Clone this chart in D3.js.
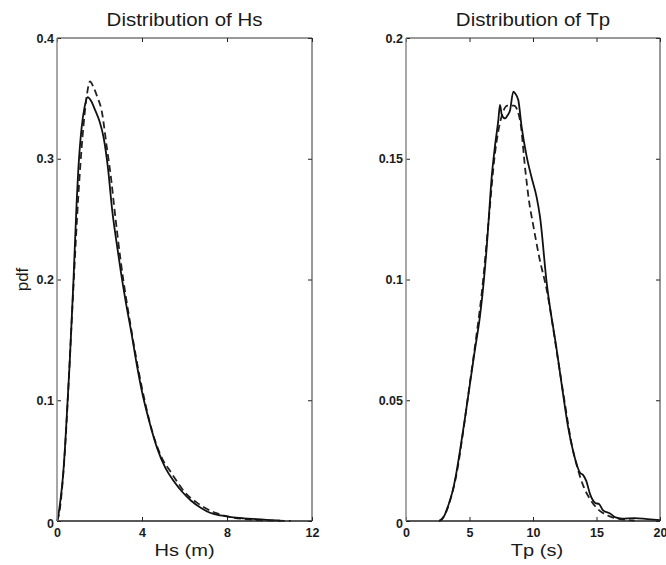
<!DOCTYPE html>
<html>
<head>
<meta charset="utf-8">
<script src="https://cdn.jsdelivr.net/npm/d3@7"></script>
<style>
  html, body { margin: 0; padding: 0; background: #fff; }
  svg { display: block; }
  text { font-family: "Liberation Sans", Arial, Helvetica, sans-serif; fill: #1a1a1a; }
</style>
</head>
<body>
<svg id="chart" width="666" height="565"></svg>
<script>
// Significant wave height Hs (m): empirical density (solid) and fitted model (dashed)
const hsEmpX = [0, 0.05, 0.1, 0.22, 0.3, 0.38, 0.5, 0.6, 0.77, 0.93, 1.0, 1.16, 1.3, 1.44, 1.6, 1.8, 2.0, 2.2, 2.4, 2.6, 2.8, 3.0, 3.25, 3.5, 3.75, 4.0, 4.35, 4.7, 5.1, 5.5, 5.9, 6.3, 6.8, 7.2, 7.7, 8.2, 8.8, 9.4, 10.0, 10.5];
const hsEmpY = [0, 0.003, 0.009, 0.026, 0.041, 0.062, 0.1, 0.132, 0.197, 0.266, 0.29, 0.326, 0.343, 0.351, 0.348, 0.34, 0.331, 0.317, 0.292, 0.257, 0.231, 0.207, 0.18, 0.156, 0.13, 0.107, 0.082, 0.061, 0.044, 0.033, 0.024, 0.017, 0.0105, 0.0068, 0.0046, 0.0032, 0.0022, 0.0015, 0.0008, 0.0003];
const hsFitX = [0, 0.1, 0.2, 0.3, 0.4, 0.5, 0.6, 0.8, 1.0, 1.2, 1.4, 1.55, 1.7, 1.9, 2.1, 2.34, 2.57, 2.68, 3.0, 3.5, 4.0, 4.5, 5.0, 5.3, 5.6, 6.0, 6.3, 6.6, 7.0, 7.5, 8.0, 9.0, 10.0, 11.0];
const hsFitY = [0, 0.006, 0.02, 0.04, 0.066, 0.098, 0.133, 0.203, 0.268, 0.318, 0.352, 0.364, 0.36, 0.351, 0.34, 0.31, 0.28, 0.262, 0.215, 0.158, 0.11, 0.073, 0.05, 0.042, 0.034, 0.024, 0.019, 0.015, 0.0105, 0.0065, 0.0038, 0.0013, 0.0004, 0.0001];

// Peak period Tp (s): empirical density (solid) and fitted model (dashed)
const tpEmpX = [2.6, 2.8, 3.0, 3.3, 3.7, 4.0, 4.25, 4.6, 5.04, 5.4, 5.83, 6.1, 6.35, 6.5, 6.75, 7.0, 7.27, 7.4, 7.55, 7.8, 8.0, 8.19, 8.45, 8.6, 8.84, 9.11, 9.5, 9.9, 10.29, 10.55, 11.08, 11.87, 12.3, 12.76, 13.2, 13.7, 13.95, 14.2, 14.5, 14.9, 15.2, 15.5, 16.1, 16.5, 17.0, 18.0, 19.0, 20.0];
const tpEmpY = [0, 0.0005, 0.002, 0.006, 0.013, 0.021, 0.029, 0.041, 0.057, 0.07, 0.085, 0.098, 0.113, 0.124, 0.1426, 0.155, 0.166, 0.1723, 0.168, 0.1667, 0.168, 0.170, 0.1778, 0.177, 0.1743, 0.163, 0.151, 0.142, 0.134, 0.126, 0.0985, 0.0708, 0.055, 0.039, 0.028, 0.02, 0.019, 0.0165, 0.011, 0.0075, 0.007, 0.0045, 0.003, 0.0015, 0.001, 0.0012, 0.0008, 0.0004];
const tpFitX = [2.6, 3.0, 3.5, 4.0, 4.5, 5.0, 5.5, 6.0, 6.5, 7.0, 7.5, 8.0, 8.5, 8.98, 9.4, 9.7, 10.0, 10.5, 11.08, 11.97, 12.5, 13.0, 13.5, 14.0, 14.5, 15.0, 16.0, 17.0, 18.0];
const tpFitY = [0, 0.002, 0.009, 0.02, 0.037, 0.056, 0.075, 0.096, 0.124, 0.152, 0.167, 0.172, 0.172, 0.166, 0.145, 0.132, 0.123, 0.109, 0.0957, 0.0667, 0.049, 0.033, 0.022, 0.014, 0.009, 0.0055, 0.002, 0.0007, 0.0002];

// Axis ticks and labels
const hsXTicks = [0, 4, 8, 12];
const hsYTicks = [0, 0.1, 0.2, 0.3, 0.4];
const hsYTickLabels = ["0", "0.1", "0.2", "0.3", "0.4"];
const tpXTicks = [0, 5, 10, 15, 20];
const tpYTicks = [0, 0.05, 0.1, 0.15, 0.2];
const tpYTickLabels = ["0", "0.05", "0.1", "0.15", "0.2"];

const panels = [
  { title: "Distribution of Hs", xlabel: "Hs (m)", ylabel: "pdf",
    xDomain: [0, 12], yDomain: [0, 0.4], left: 57, right: 312,
    xTicks: hsXTicks, yTicks: hsYTicks, yTickLabels: hsYTickLabels,
    emp: [hsEmpX, hsEmpY], fit: [hsFitX, hsFitY] },
  { title: "Distribution of Tp", xlabel: "Tp (s)", ylabel: null,
    xDomain: [0, 20], yDomain: [0, 0.2], left: 406, right: 660,
    xTicks: tpXTicks, yTicks: tpYTicks, yTickLabels: tpYTickLabels,
    emp: [tpEmpX, tpEmpY], fit: [tpFitX, tpFitY] }
];

const plotTop = 38, plotBottom = 521, tickLen = 4;
const svg = d3.select("#chart");

panels.forEach(p => {
  const x = d3.scaleLinear().domain(p.xDomain).range([p.left, p.right]);
  const y = d3.scaleLinear().domain(p.yDomain).range([plotBottom, plotTop]);
  const g = svg.append("g");

  // curves
  const line = d3.line().x(d => x(d[0])).y(d => y(d[1])).curve(d3.curveMonotoneX);
  const empPts = p.emp[0].map((v, i) => [v, p.emp[1][i]]);
  const fitPts = p.fit[0].map((v, i) => [v, p.fit[1][i]]);
  g.append("path").datum(fitPts).attr("d", line)
    .attr("fill", "none").attr("stroke", "#222").attr("stroke-width", 1.8)
    .attr("stroke-dasharray", "7,4");
  g.append("path").datum(empPts).attr("d", line)
    .attr("fill", "none").attr("stroke", "#111").attr("stroke-width", 1.8);

  // inward ticks on all four sides
  const xb = d3.axisBottom(x).tickValues(p.xTicks).tickSizeInner(-tickLen).tickSizeOuter(0).tickFormat(d3.format("d")).tickPadding(7);
  const xt = d3.axisTop(x).tickValues(p.xTicks).tickSizeInner(-tickLen).tickSizeOuter(0).tickFormat("");
  const yl = d3.axisLeft(y).tickValues(p.yTicks).tickSizeInner(-tickLen).tickSizeOuter(0)
    .tickFormat((d, i) => p.yTickLabels[i]).tickPadding(3);
  const yr = d3.axisRight(y).tickValues(p.yTicks).tickSizeInner(-tickLen).tickSizeOuter(0).tickFormat("");

  const styleAxis = sel => {
    sel.select(".domain").remove();
    sel.selectAll(".tick line").attr("stroke", "#222");
    sel.selectAll(".tick text").attr("font-size", 12.5).attr("font-weight", "bold")
      .attr("fill", "#1a1a1a").attr("font-family", "Liberation Sans, Arial, sans-serif");
  };
  g.append("g").attr("transform", `translate(0,${plotBottom})`).call(xb).call(styleAxis);
  g.append("g").attr("transform", `translate(0,${plotTop})`).call(xt).call(styleAxis);
  const ylG = g.append("g").attr("transform", `translate(${p.left},0)`).call(yl).call(styleAxis);
  g.append("g").attr("transform", `translate(${p.right},0)`).call(yr).call(styleAxis);

  // the y-axis zero label sits a little lower, beside the x-axis zero
  ylG.selectAll(".tick text").filter(d => d === 0).attr("dy", "0.5em");

  // frame
  g.append("line").attr("x1", p.left).attr("x2", p.right).attr("y1", plotTop).attr("y2", plotTop).attr("stroke", "#333");
  g.append("line").attr("x1", p.left).attr("x2", p.right).attr("y1", plotBottom).attr("y2", plotBottom).attr("stroke", "#222").attr("stroke-width", 1.3);
  g.append("line").attr("x1", p.right).attr("x2", p.right).attr("y1", plotTop).attr("y2", plotBottom).attr("stroke", "#333");
  g.append("line").attr("x1", p.left).attr("x2", p.left).attr("y1", plotTop).attr("y2", plotBottom).attr("stroke", "#8a8a8a").attr("stroke-width", 1.5);

  const cx = (p.left + p.right) / 2;
  // title
  g.append("text").attr("transform", `translate(${cx},26) scale(1.17,1)`)
    .attr("text-anchor", "middle").attr("font-size", 17.5).text(p.title);
  // x label
  g.append("text").attr("transform", `translate(${cx + (p.ylabel ? 0 : 4)},556) scale(1.18,1)`)
    .attr("text-anchor", "middle").attr("font-size", 17).text(p.xlabel);
  // y label
  if (p.ylabel) {
    g.append("text").attr("transform", `translate(28,${(plotTop + plotBottom) / 2}) rotate(-90)`)
      .attr("text-anchor", "middle").attr("font-size", 17).text(p.ylabel);
  }
});
</script>
</body>
</html>
